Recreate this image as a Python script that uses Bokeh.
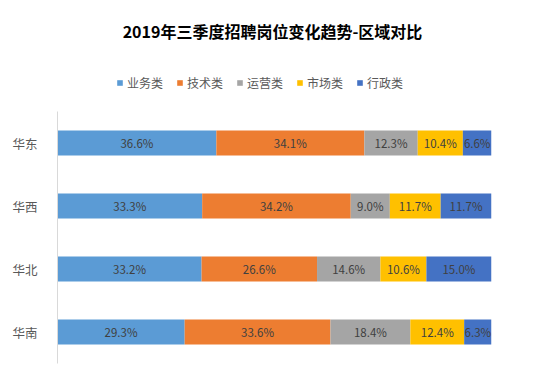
from bokeh.plotting import figure
from bokeh.layouts import column
from bokeh.models import ColumnDataSource, FactorRange, LabelSet, Label
from bokeh.core.properties import value
from bokeh.embed import file_html
from bokeh.resources import INLINE

regions = ["华东", "华西", "华北", "华南"]
series = ["业务类", "技术类", "运营类", "市场类", "行政类"]
s_business = [36.6, 33.3, 33.2, 29.3]
s_tech = [34.1, 34.2, 26.6, 33.6]
s_ops = [12.3, 9.0, 14.6, 18.4]
s_market = [10.4, 11.7, 10.6, 12.4]
s_admin = [6.6, 11.7, 15.0, 6.3]
colors = ["#5B9BD5", "#ED7D31", "#A5A5A5", "#FFC000", "#4472C4"]
title_text = "2019年三季度招聘岗位变化趋势-区域对比"

values = [s_business, s_tech, s_ops, s_market, s_admin]
totals = [sum(v[i] for v in values) for i in range(len(regions))]
keys = ["s%d" % k for k in range(len(series))]
data = {"region": regions}
for k, v in zip(keys, values):
    data[k] = [v[i] / totals[i] * 100 for i in range(len(regions))]
source = ColumnDataSource(data)

CJK = "Noto Sans CJK SC"

# ---- header figure: title + legend ----
header = figure(width=535, height=111, output_backend="svg", toolbar_location=None,
                x_range=(0, 100), y_range=(0, 1), min_border=0)
header.outline_line_color = None
header.axis.visible = False
header.grid.visible = False
for name, k, c in zip(series, keys, colors):
    header.hbar(y=0.5, left=0, right=k, height=0.1, source=source, color=c,
                line_color=None, legend_label=name, visible=False)
lg = header.legend[0]
lg.orientation = "horizontal"
lg.location = (59, 20)
lg.glyph_width = 7
lg.glyph_height = 7
lg.label_height = 14
lg.label_text_font_size = "12px"
lg.label_text_color = "#595959"
lg.label_text_font = CJK
lg.spacing = 13
lg.padding = 0
lg.margin = 0
lg.border_line_color = None
lg.background_fill_alpha = 0
lg.inactive_fill_alpha = 0
lg.label_standoff = 4
header.add_layout(Label(x=215, y=81, x_units="screen", y_units="screen", text=title_text,
                        text_align="center", text_baseline="middle", text_font_size="16px",
                        text_font_style="bold", text_color="#000000", text_font=CJK))

# ---- main chart ----
p = figure(width=535, height=253, output_backend="svg", toolbar_location=None,
           y_range=FactorRange(*reversed(regions), range_padding=0),
           x_range=(0, 100),
           min_border_left=57, min_border_right=44, min_border_top=0, min_border_bottom=1)
p.outline_line_color = None
p.xgrid.visible = False
p.ygrid.visible = False
p.xaxis.visible = False

p.hbar_stack(keys, y="region", height=0.4, color=colors, line_color=None, source=source)

for idx, (k, v) in enumerate(zip(keys, values)):
    left = [sum(data[kk][i] for kk in keys[:idx]) for i in range(len(regions))]
    mids = [left[i] + data[k][i] / 2 for i in range(len(regions))]
    src = ColumnDataSource(dict(x=mids, y=regions, t=["%.1f%%" % x for x in v]))
    p.add_layout(LabelSet(x="x", y="y", text="t", source=src, text_align="center",
                          text_baseline="middle", text_font_size="11.5px",
                          text_color="#404040", text_font=value(CJK)))

yax = p.yaxis[0]
yax.axis_line_color = "#D9D9D9"
yax.major_tick_line_color = None
yax.minor_tick_line_color = None
yax.major_label_text_font_size = "12.5px"
yax.major_label_text_color = "#595959"
yax.major_label_text_font = CJK
yax.major_label_standoff = 14

layout = column(header, p, spacing=0)
open("out.html", "w").write(file_html(layout, INLINE))
